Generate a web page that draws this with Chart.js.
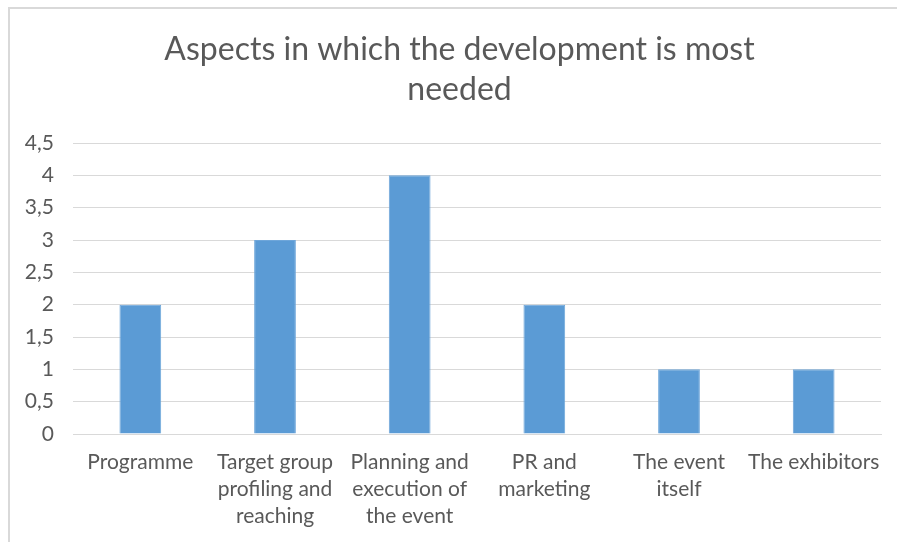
<!DOCTYPE html>
<html>
<head>
<meta charset="utf-8">
<script src="https://cdn.jsdelivr.net/npm/chart.js@4"></script>
<style>
  html, body { margin: 0; padding: 0; background: #fff; overflow: hidden; }
  #wrap { position: relative; width: 897px; height: 542px; }
  #frame { position: absolute; left: 8px; top: 7px; width: 1000px; height: 1000px;
           border-top: 2px solid #d9d9d9; border-left: 2px solid #d9d9d9; pointer-events: none; }
  canvas { position: absolute; left: 0; top: 0; }
</style>
</head>
<body>
<div id="wrap">
  <canvas id="chart" width="897" height="542"></canvas>
  <div id="frame"></div>
</div>
<script>
var categories = [
  ['Programme'],
  ['Target group', 'profiling and', 'reaching'],
  ['Planning and', 'execution of', 'the event'],
  ['PR and', 'marketing'],
  ['The event', 'itself'],
  ['The exhibitors']
]
var values = [2, 3, 4, 2, 1, 1]
var yMax = 4.5
var yStep = 0.5
var titleLines = ['Aspects in which the development is most', 'needed']

var fontFamily = 'Lato, "Open Sans", sans-serif'
var textColor = '#595959'
var gridColor = '#d9d9d9'

// the title is centred over the whole frame, not just the plot, so nudge its box
var titleShift = {
  id: 'titleShift',
  afterLayout: function (chart) {
    if (chart.titleBlock) chart.titleBlock.left = 38
  }
}

var ctx = document.getElementById('chart').getContext('2d')

new Chart(ctx, {
  type: 'bar',
  data: {
    labels: categories,
    datasets: [{
      data: values,
      backgroundColor: '#5b9bd5',
      borderColor: '#6ea6da',
      borderWidth: 1,
      categoryPercentage: 1,
      barPercentage: 0.31
    }]
  },
  options: {
    responsive: false,
    animation: false,
    layout: { padding: { left: 4, right: 16, top: 0, bottom: 0 } },
    plugins: {
      legend: { display: false },
      tooltip: { enabled: false },
      title: {
        display: true,
        text: titleLines,
        color: textColor,
        font: { family: fontFamily, size: 32, weight: 'normal', lineHeight: 1.25 },
        padding: { top: 30, bottom: 33 }
      }
    },
    scales: {
      x: {
        grid: { display: false, drawTicks: false },
        border: { color: gridColor, width: 1 },
        ticks: {
          color: textColor,
          font: { family: fontFamily, size: 21, lineHeight: 1.286 },
          padding: 15,
          maxRotation: 0,
          autoSkip: false
        },
        afterFit: function (scale) { scale.height = 108 }
      },
      y: {
        min: 0,
        max: yMax,
        grid: { color: gridColor, lineWidth: 1, drawTicks: false },
        border: { display: false },
        ticks: {
          stepSize: yStep,
          color: textColor,
          font: { family: fontFamily, size: 21 },
          padding: 19,
          callback: function (v) { return String(v).replace('.', ',') }
        },
        afterFit: function (scale) { scale.width = 69 }
      }
    }
  },
  plugins: [titleShift]
})
</script>
</body>
</html>
